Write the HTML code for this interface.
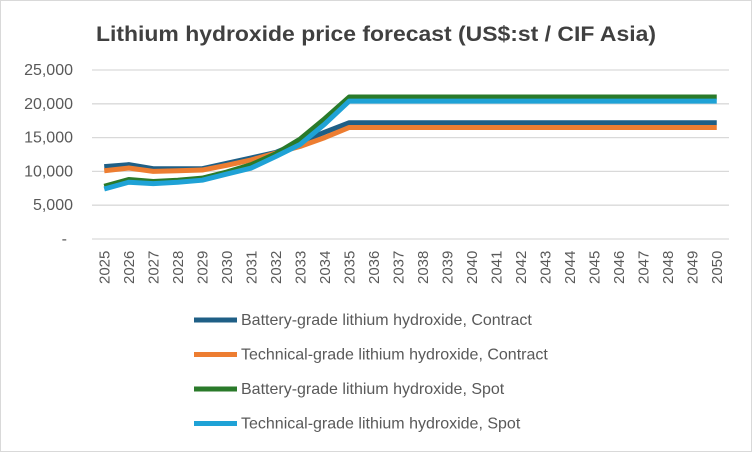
<!DOCTYPE html>
<html><head><meta charset="utf-8"><style>
body{margin:0;background:#fff;font-family:"Liberation Sans",sans-serif}
#c{position:relative;width:750px;height:450px;border:1px solid #d9d9d9}
</style></head><body>
<div id="c">
<svg id="s" width="750" height="450">
<text x="95" y="40" font-size="21" font-weight="bold" fill="#404040" textLength="560" lengthAdjust="spacingAndGlyphs">Lithium hydroxide price forecast (US$:st / CIF Asia)</text>
</svg></div>
<script>
const years=[];for(let y=2025;y<=2050;y++)years.push(String(y));
const batteryContract=[10.7,11.0,10.4,10.4,10.4,11.2,12.0,12.8,14.3,15.8,17.2,17.2,17.2,17.2,17.2,17.2,17.2,17.2,17.2,17.2,17.2,17.2,17.2,17.2,17.2,17.2];
const technicalContract=[10.1,10.5,10.0,10.1,10.2,10.9,11.7,12.7,13.7,15.0,16.5,16.5,16.5,16.5,16.5,16.5,16.5,16.5,16.5,16.5,16.5,16.5,16.5,16.5,16.5,16.5];
const batterySpot=[7.8,8.8,8.5,8.7,9.0,9.9,11.0,12.6,14.8,17.8,21.0,21.0,21.0,21.0,21.0,21.0,21.0,21.0,21.0,21.0,21.0,21.0,21.0,21.0,21.0,21.0];
const technicalSpot=[7.4,8.4,8.2,8.4,8.7,9.6,10.5,12.2,14.0,17.0,20.4,20.4,20.4,20.4,20.4,20.4,20.4,20.4,20.4,20.4,20.4,20.4,20.4,20.4,20.4,20.4];
const yTicks=[0,5,10,15,20,25];
const yTickLabels=["-","5,000","10,000","15,000","20,000","25,000"];
const seriesNames=["Battery-grade lithium hydroxide, Contract","Technical-grade lithium hydroxide, Contract","Battery-grade lithium hydroxide, Spot","Technical-grade lithium hydroxide, Spot"];
const s=document.getElementById('s'),NS='http://www.w3.org/2000/svg';
const x0=91,x1=728,y0=238,yTop=69;
const xs=i=>x0+(i+0.5)*(x1-x0)/years.length;
const ys=v=>y0-(v/25)*(y0-yTop);
function mk(t,a){const e=document.createElementNS(NS,t);for(const k in a)e.setAttribute(k,a[k]);s.appendChild(e);return e;}
yTicks.forEach((v,i)=>{
 const g=mk('line',{x1:x0,x2:x1,y1:ys(v),y2:ys(v),stroke:'#d9d9d9','stroke-width':1.3});
 
 
 const t=mk('text',{x:v===0?66:72,y:ys(v)+5,'font-size':16,fill:'#595959','text-anchor':'end'});
 t.textContent=yTickLabels[i];
 
 
});
years.forEach((y,i)=>{
 const t=mk('text',{transform:`translate(${xs(i)+5},283) rotate(-90)`,'font-size':15,fill:'#595959'});
 t.textContent=y;
 
 
});
const series=[batteryContract,technicalContract,batterySpot,technicalSpot];
const colors=['#1f5f86','#ed7d31','#2a7a2a','#1fa2d6'];
series.forEach((d,k)=>{
 const p=mk('polyline',{points:d.map((v,i)=>xs(i)+','+ys(v)).join(' '),fill:'none',stroke:colors[k],'stroke-width':5,'stroke-linejoin':'round'});
 
 
 const ly=319+k*34.5;
 const l=mk('line',{x1:193,x2:236,y1:ly,y2:ly,stroke:colors[k],'stroke-width':5});
 
 
 const t=mk('text',{x:240,y:ly+5,'font-size':16,fill:'#595959'});
 t.textContent=seriesNames[k];
 
 
});
</script>
</body></html>
